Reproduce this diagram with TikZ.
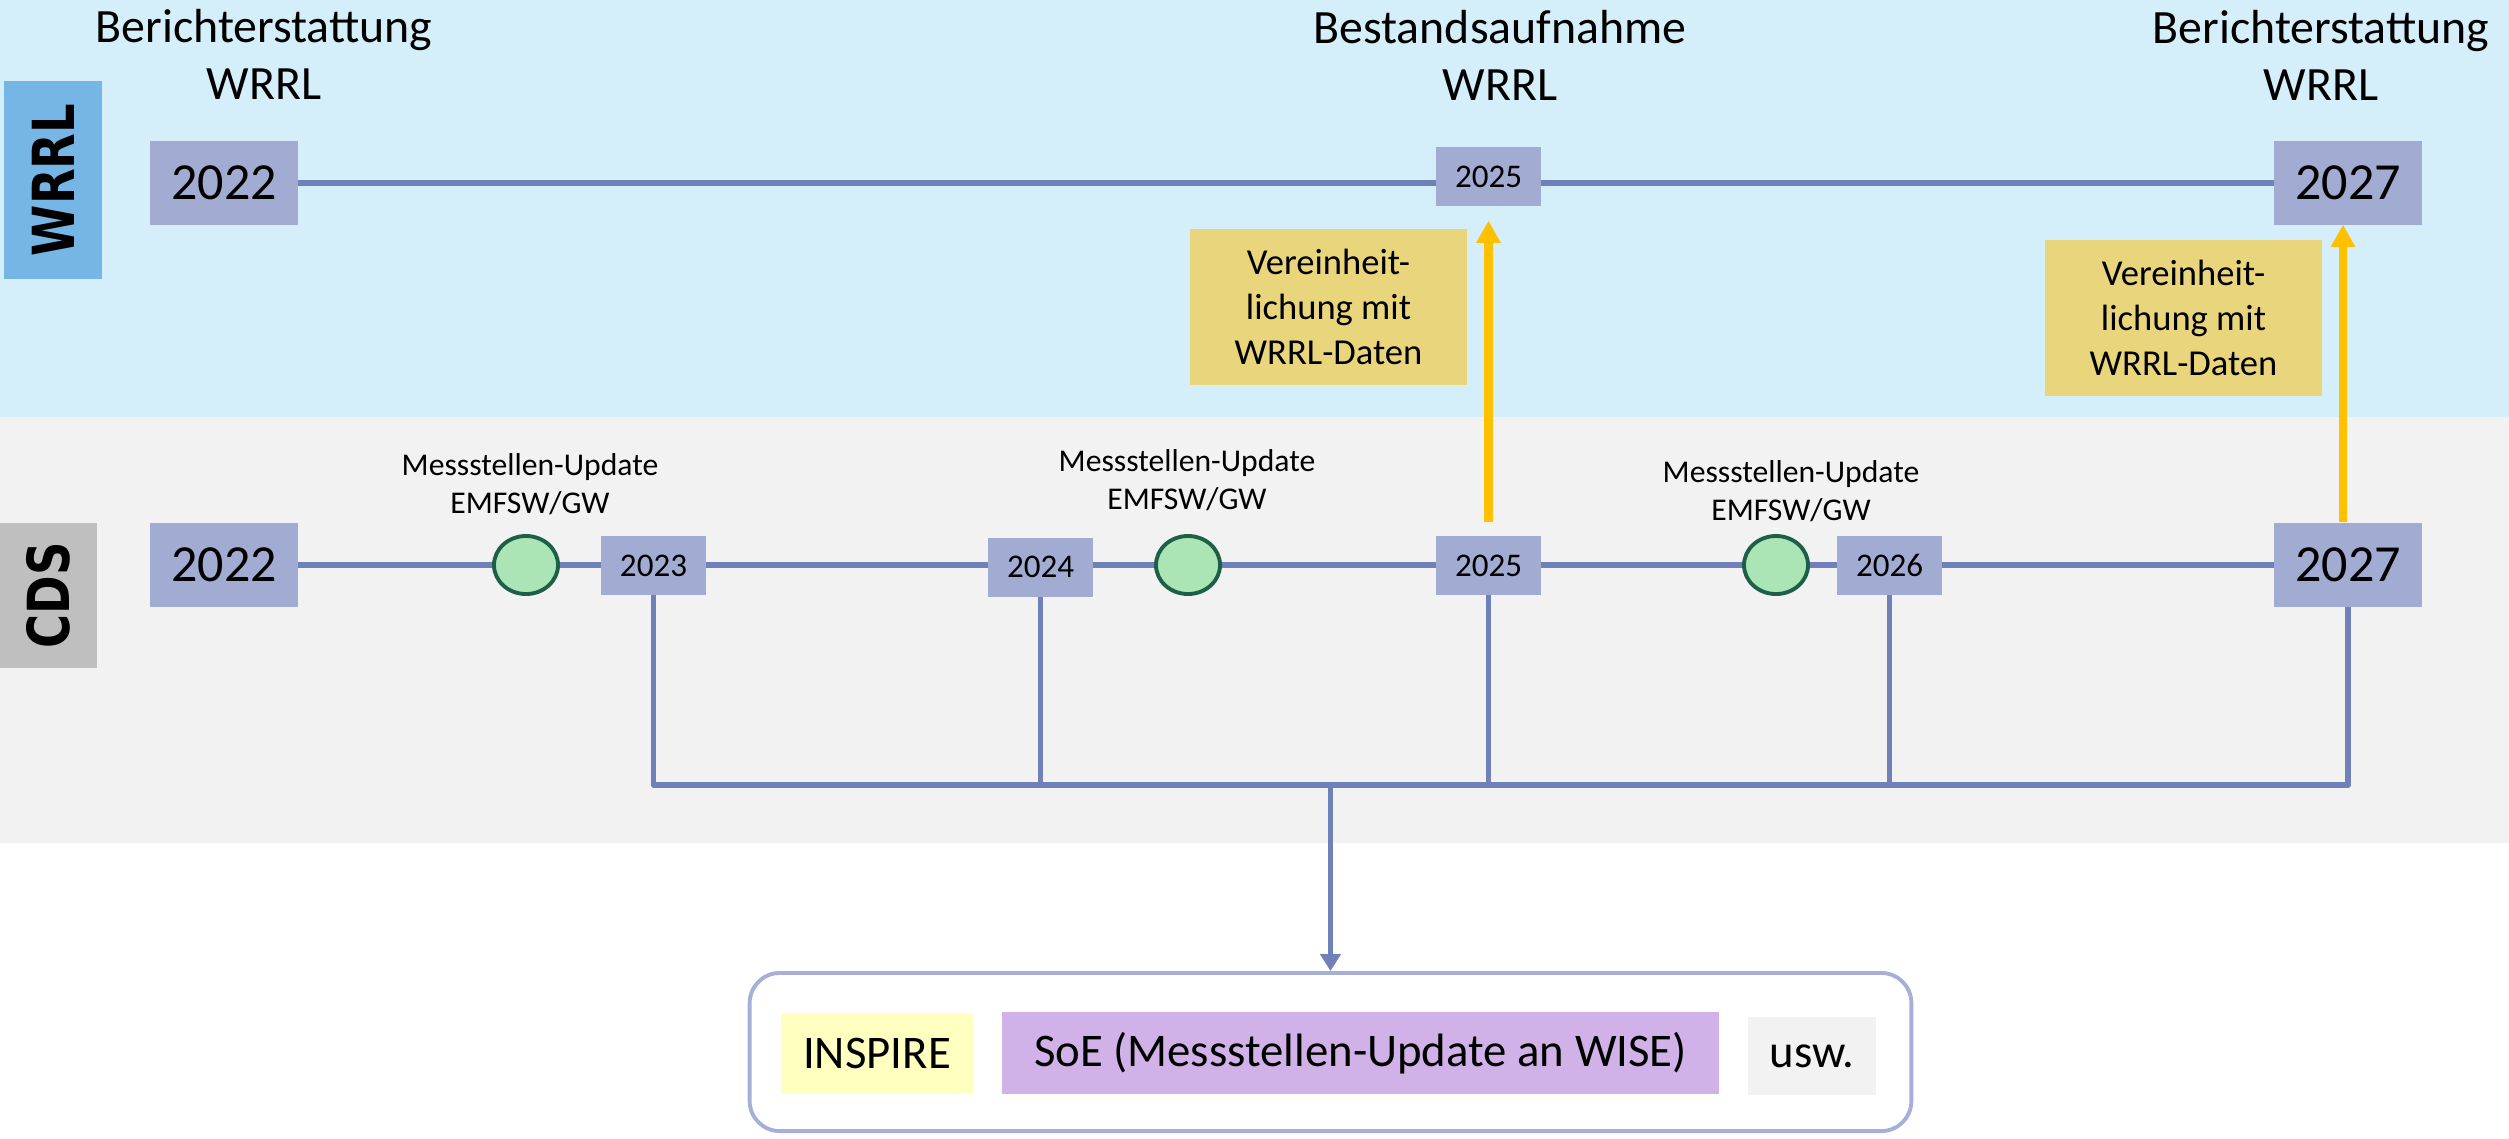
\documentclass[tikz,border=0pt]{standalone}
\usepackage{fontspec}
\setmainfont{Carlito}
\newfontfamily\lblfont{DejaVu Sans}
\usetikzlibrary{shapes.geometric,arrows.meta,calc}
\pgfdeclarelayer{bands}
\pgfdeclarelayer{lines}
\pgfsetlayers{bands,lines,main}
\definecolor{bandblue}{RGB}{212,239,250}
\definecolor{bandgray}{RGB}{242,242,242}
\definecolor{lblblue}{RGB}{117,182,230}
\definecolor{lblgray}{RGB}{191,191,191}
\definecolor{yearfill}{RGB}{162,171,209}
\definecolor{tline}{RGB}{112,129,185}
\definecolor{notefill}{RGB}{233,214,124}
\definecolor{arrowgold}{RGB}{255,192,0}
\definecolor{evfill}{RGB}{171,229,181}
\definecolor{evdraw}{RGB}{30,95,71}
\definecolor{inspirefill}{RGB}{255,255,192}
\definecolor{soefill}{RGB}{209,178,232}
\definecolor{uswfill}{RGB}{242,242,242}
\definecolor{outdraw}{RGB}{165,175,216}
\begin{document}
\begin{tikzpicture}[x=0.01cm,y=-0.01cm,
 bigyear/.style={fill=yearfill, minimum width=1.48cm, minimum height=0.84cm, inner sep=0pt, font=\fontsize{14.8}{17}\selectfont},
 smallyear/.style={fill=yearfill, minimum width=1.05cm, minimum height=0.59cm, inner sep=0pt, font=\fontsize{9.4}{11}\selectfont},
 heading/.style={align=center, anchor=base, inner sep=0pt, font=\fontsize{13.6}{16.2}\selectfont},
 notebox/.style={fill=notefill, minimum width=2.77cm, minimum height=1.56cm, align=center, inner sep=0pt, font=\fontsize{10.4}{12.8}\selectfont},
 evt/.style={ellipse, fill=evfill, draw=evdraw, line width=1.1pt, minimum width=0.64cm, minimum height=0.58cm, inner sep=0pt},
 evlabel/.style={align=center, anchor=base, inner sep=0pt, font=\fontsize{9}{10.7}\selectfont},
 tl/.style={draw=tline, line width=1.6pt},
 goldarrow/.style={draw=arrowgold, line width=2.3pt, -{Triangle[width=0.23cm,length=0.22cm]}},
 lane/.style={rotate=90, inner sep=0pt, font=\lblfont\bfseries\fontsize{16.5}{18}\selectfont},
 chip/.style={inner sep=0pt, font=\fontsize{13.3}{15}\selectfont}
]
\useasboundingbox (0,0) rectangle (2509,1138);
% bands
\begin{pgfonlayer}{bands}
\fill[white] (0,0) rectangle (2509,1138);
\fill[bandblue] (0,0) rectangle (2509,417);
\fill[bandgray] (0,417) rectangle (2509,843);
\end{pgfonlayer}

% lane labels
\node[lane, fill=lblblue, minimum width=1.98cm, minimum height=0.98cm] (lwrrl) at (53,180) {\scalebox{0.8}[1]{WRRL}};
\node[lane, fill=lblgray, minimum width=1.45cm, minimum height=0.97cm] (lcds) at (48.5,595.5) {\scalebox{0.8}[1]{CDS}};

% headings (anchor = baseline of the last line)
\node[heading] (h1) at (264,99) {Berichterstattung\\WRRL};
\node[heading] (h2) at (1500,100) {Bestandsaufnahme\\WRRL};
\node[heading] (h3) at (2321,100) {Berichterstattung\\WRRL};

% WRRL row
\node[bigyear] (w2022) at (224,183) {2022};
\node[smallyear] (w2025) at (1488.5,176.5) {2025};
\node[bigyear] (w2027) at (2348,183) {2027};
\begin{pgfonlayer}{lines}
\draw[tl] (w2022.center) -- (w2027.center);
\end{pgfonlayer}

% CDS row
\coordinate (bus) at (0,785);
\node[bigyear] (c2022) at (224,565) {2022};
\node[smallyear] (c2023) at (653.5,565.5) {2023};
\node[smallyear] (c2024) at (1040.5,567) {2024};
\node[smallyear] (c2025) at (1488.5,565.5) {2025};
\node[smallyear] (c2026) at (1889.5,565.5) {2026};
\node[bigyear] (c2027) at (2348,565) {2027};
\begin{pgfonlayer}{lines}
\draw[tl] (c2022.center) -- (c2027.center);
\draw[tl, line join=round] (c2023.center) -- (c2023.center |- bus) -- (c2027.center |- bus) -- (c2027.center);
\draw[tl] (c2024.center) -- (c2024.center |- bus);
\draw[tl] (c2025.center) -- (c2025.center |- bus);
\draw[tl] (c2026.center) -- (c2026.center |- bus);
\end{pgfonlayer}

% events
\node[evt] (e1) at (526,565) {};
\node[evt] (e2) at (1188,565) {};
\node[evt] (e3) at (1776,565) {};
\node[evlabel] (l1) at (530,513) {Messstellen-Update\\EMFSW/GW};
\node[evlabel] (l2) at (1187,509) {Messstellen-Update\\EMFSW/GW};
\node[evlabel] (l3) at (1791,520) {Messstellen-Update\\EMFSW/GW};

% notes and gold arrows
\node[notebox] (n1) at (1328.5,307) {Vereinheit-\\lichung mit\\WRRL-Daten};
\node[notebox] (n2) at (2183.5,318) {Vereinheit-\\lichung mit\\WRRL-Daten};
\draw[goldarrow] ([yshift=0.13cm]c2025.north) -- ([yshift=-0.14cm]w2025.south);
\draw[goldarrow] ([xshift=-0.05cm]c2027.north) -- ([xshift=-0.05cm,yshift=0.01cm]w2027.south);

% output box
\node[draw=outdraw, line width=1.1pt, rounded corners=0.3cm, minimum width=11.61cm, minimum height=1.58cm] (out) at (1330.5,1052) {};
\node[chip, fill=inspirefill, minimum width=1.92cm, minimum height=0.81cm] (insp) at (877,1053.5) {INSPIRE};
\node[chip, fill=soefill, minimum width=7.17cm, minimum height=0.82cm] (soe) at (1360.5,1053) {SoE (Messstellen-Update an WISE)};
\node[chip, fill=uswfill, minimum width=1.28cm, minimum height=0.78cm] (usw) at (1812,1056) {usw.};
\coordinate (bj) at (1330.5,785);
\draw[tl, -{Triangle[width=0.2cm,length=0.17cm]}] (bj) -- (out.north);
\end{tikzpicture}
\end{document}
